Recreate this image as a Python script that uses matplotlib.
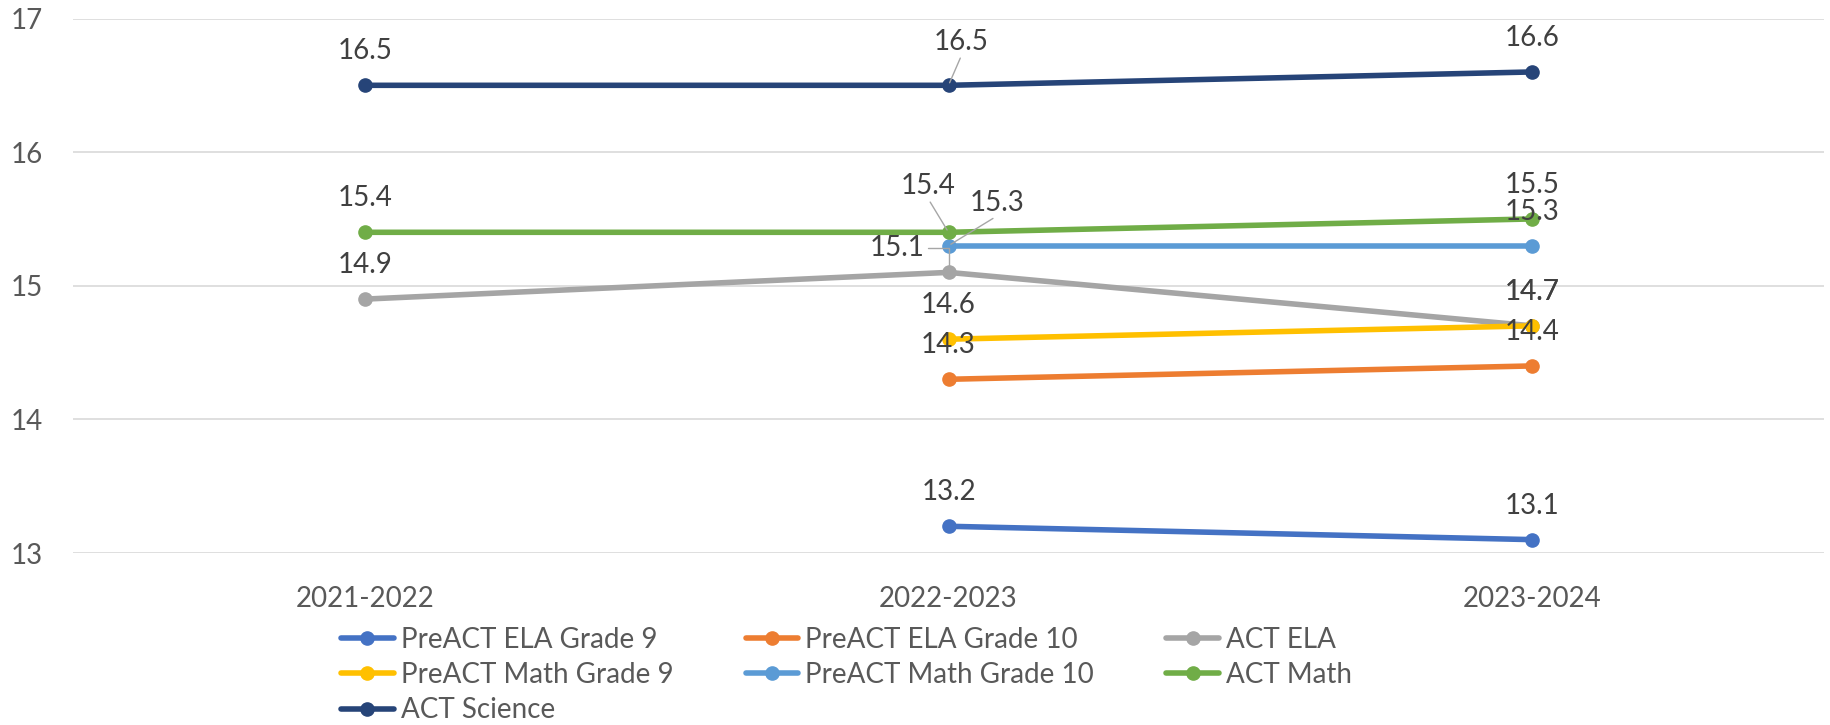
import numpy as np
import matplotlib
matplotlib.use("Agg")
import matplotlib.pyplot as plt

plt.rcParams['font.family'] = ['Lato', 'DejaVu Sans']

years = ["2021-2022", "2022-2023", "2023-2024"]
series_names = ["PreACT ELA Grade 9", "PreACT ELA Grade 10", "ACT ELA",
                "PreACT Math Grade 9", "PreACT Math Grade 10", "ACT Math",
                "ACT Science"]
preact_ela_9 = [np.nan, 13.2, 13.1]
preact_ela_10 = [np.nan, 14.3, 14.4]
act_ela = [14.9, 15.1, 14.7]
preact_math_9 = [np.nan, 14.6, 14.7]
preact_math_10 = [np.nan, 15.3, 15.3]
act_math = [15.4, 15.4, 15.5]
act_science = [16.5, 16.5, 16.6]

values = [preact_ela_9, preact_ela_10, act_ela, preact_math_9,
          preact_math_10, act_math, act_science]
colors = ["#4472C4", "#ED7D31", "#A5A5A5", "#FFC000", "#5B9BD5", "#70AD47", "#264478"]

# label offsets (pixels) for displaced labels: (series index, point index) -> (dx, dy, relpos, elbow)
special = {
    (6, 1): (13, 43, (0.5, 0.0), False),
    (5, 1): (-20, 46, (0.5, 0.0), False),
    (4, 1): (49, 43, (0.5, 0.0), False),
    (2, 1): (-51, 24, (1.0, 0.5), True),
}

fig = plt.figure(figsize=(18.31, 7.25), dpi=100)
ax = fig.add_axes([73/1831, 1-553/725, 1751/1831, 534.5/725])

x = np.arange(len(years))
handles = []
for i, (name, vals, c) in enumerate(zip(series_names, values, colors)):
    h, = ax.plot(x, vals, color=c, lw=4.0, marker='o', markersize=9.5,
                 solid_capstyle='round', label=name, zorder=2 + i * 0.01)
    handles.append(h)

for i, vals in enumerate(values):
    for j, v in enumerate(vals):
        if np.isnan(v):
            continue
        if (i, j) in special:
            dx, dy, rp, elbow = special[(i, j)]
            cs = "angle,angleA=0,angleB=90,rad=0" if elbow else "arc3"
            ax.annotate(f"{v:.1f}", xy=(j, v), xytext=(dx, dy),
                        textcoords='offset pixels', ha='center', va='center',
                        fontsize=20, color='#404040',
                        arrowprops=dict(arrowstyle='-', color='#A6A6A6', lw=1.0,
                                        relpos=rp, connectionstyle=cs,
                                        shrinkA=0, shrinkB=2))
        else:
            ax.annotate(f"{v:.1f}", xy=(j, v), xytext=(0, 34),
                        textcoords='offset pixels', ha='center', va='center',
                        fontsize=20, color='#404040')

ax.set_xlim(-0.5, 2.5)
ax.set_ylim(13, 17)
ax.set_yticks([13, 14, 15, 16, 17])
ax.set_xticks(x)
ax.set_xticklabels(years)
ax.grid(axis='y', color='#D9D9D9', lw=1.2)
ax.set_axisbelow(True)
for s in ax.spines.values():
    s.set_visible(False)
ax.tick_params(axis='both', length=0, labelsize=20, labelcolor='#595959')
ax.tick_params(axis='y', pad=22)
ax.tick_params(axis='x', pad=24)

order = [0, 3, 6, 1, 4, 2, 5]
leg = fig.legend([handles[k] for k in order], [series_names[k] for k in order],
                 ncol=3, loc='upper left', bbox_to_anchor=(341/1831, 1-627/725),
                 frameon=False, fontsize=20, labelcolor='#595959',
                 handlelength=1.9, handletextpad=0.25, columnspacing=2.6,
                 labelspacing=0.33, borderpad=0, borderaxespad=0)

fig.savefig("out.png", dpi=100)
